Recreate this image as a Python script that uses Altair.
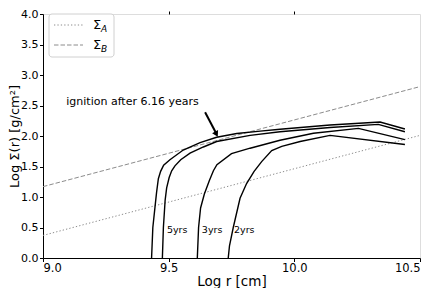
import altair as alt
import pandas as pd

FONT = "DejaVu Sans"

# --- data ---
c1_x = [9.432, 9.437, 9.446, 9.452, 9.459, 9.468, 9.48, 9.505, 9.558, 9.625, 9.691, 9.771, 9.864, 9.943, 10.142, 10.341, 10.44]
c1_y = [0.0, 0.5, 0.85, 1.08, 1.30, 1.42, 1.52, 1.61, 1.77, 1.89, 1.98, 2.04, 2.08, 2.11, 2.18, 2.23, 2.115]

c2_x = [9.475, 9.479, 9.486, 9.492, 9.502, 9.512, 9.525, 9.548, 9.585, 9.638, 9.691, 9.824, 9.943, 10.142, 10.334, 10.44]
c2_y = [0.0, 0.5, 0.95, 1.15, 1.32, 1.43, 1.51, 1.61, 1.72, 1.82, 1.91, 2.01, 2.07, 2.14, 2.19, 2.07]

c3_x = [9.614, 9.619, 9.627, 9.642, 9.662, 9.678, 9.692, 9.75, 9.824, 9.943, 10.076, 10.255, 10.44]
c3_y = [0.0, 0.5, 0.82, 1.05, 1.27, 1.43, 1.53, 1.71, 1.80, 1.93, 2.045, 2.125, 1.94]

c4_x = [9.737, 9.742, 9.757, 9.784, 9.81, 9.84, 9.87, 9.91, 9.95, 10.023, 10.142, 10.44]
c4_y = [0.0, 0.2, 0.5, 0.98, 1.22, 1.42, 1.58, 1.76, 1.83, 1.91, 2.01, 1.86]

sigA_x = [9.0, 10.5]
sigA_y = [0.37, 2.01]
sigB_x = [9.0, 10.5]
sigB_y = [1.17, 2.81]

lab_text = ["5yrs", "3yrs", "2yrs"]
lab_x = [9.493, 9.632, 9.76]
lab_y = [0.46, 0.46, 0.46]

ann_text = ["ignition after 6.16 years"]
ann_x = [9.356]
ann_y = [2.55]

arrow_x = [9.645, 9.689]
arrow_y = [2.39, 2.045]
head_x = [9.690]
head_y = [2.03]

x_ticks = [9.0, 9.5, 10.0, 10.5]
y_ticks = [0.0, 0.5, 1.0, 1.5, 2.0, 2.5, 3.0, 3.5, 4.0]

# --- tables ---
rows = []
for name, xs, ys in [("c1", c1_x, c1_y), ("c2", c2_x, c2_y), ("c3", c3_x, c3_y), ("c4", c4_x, c4_y)]:
    for i, (a, b) in enumerate(zip(xs, ys)):
        rows.append({"curve": name, "x": a, "y": b, "o": i})
curves_df = pd.DataFrame(rows)
sigA_df = pd.DataFrame({"x": sigA_x, "y": sigA_y})
sigB_df = pd.DataFrame({"x": sigB_x, "y": sigB_y})
lab_df = pd.DataFrame({"t": lab_text, "x": lab_x, "y": lab_y})
ann_df = pd.DataFrame({"t": ann_text, "x": ann_x, "y": ann_y})
arrow_df = pd.DataFrame({"x": arrow_x, "y": arrow_y})
head_df = pd.DataFrame({"x": head_x, "y": head_y})
one = pd.DataFrame({"a": [0]})

xscale = alt.Scale(domain=[9.0, 10.5], nice=False, zero=False)
yscale = alt.Scale(domain=[0, 4], nice=False, zero=False)

bottom_axis = alt.Axis(values=x_ticks, format=".1f", title="Log r [cm]", grid=False,
                       tickSize=3.5, tickColor="black", domainColor="black",
                       labelFontSize=11.5, titleFontSize=13.5, labelColor="black",
                       titleColor="black", titleFontWeight="normal", labelFont=FONT,
                       titleFont=FONT, labelPadding=1, titlePadding=0)
top_axis = alt.Axis(orient="top", values=[9.5, 10.0], labels=False, title=None, grid=False,
                    tickSize=3, tickColor="black", domain=False)
left_axis = alt.Axis(values=y_ticks, format=".1f", title="Log Σ(r) [g/cm²]", grid=False,
                     tickSize=3.5, tickColor="black", domainColor="black",
                     labelFontSize=11, titleFontSize=13, labelColor="black",
                     titleColor="black", titleFontWeight="normal", labelFont=FONT,
                     titleFont=FONT, labelPadding=1.5, titlePadding=-1)


def X(axis=None):
    return alt.X("x:Q", scale=xscale, axis=axis)


def Y():
    return alt.Y("y:Q", scale=yscale, axis=left_axis)


sigA = alt.Chart(sigA_df).mark_line(color="#8c8c8c", strokeWidth=1, strokeDash=[1.3, 2.1], clip=True).encode(
    x=X(top_axis), y=Y())
sigB = alt.Chart(sigB_df).mark_line(color="#8c8c8c", strokeWidth=1, strokeDash=[4.5, 2], clip=True).encode(
    x=X(), y=Y())
curves = alt.Chart(curves_df).mark_line(color="black", strokeWidth=1.4, clip=True).encode(
    x=X(bottom_axis), y=Y(), detail="curve:N", order="o:Q")
labels = alt.Chart(lab_df).mark_text(align="left", baseline="middle", fontSize=9.5, font=FONT, color="black").encode(
    x=X(), y=Y(), text="t:N")
ann = alt.Chart(ann_df).mark_text(align="center", baseline="middle", fontSize=11, font=FONT, color="black").encode(
    x=X(), y=Y(), text="t:N")
shaft = alt.Chart(arrow_df).mark_line(color="black", strokeWidth=2).encode(x=X(), y=Y())
head = alt.Chart(head_df).mark_point(shape="triangle-up", filled=True, color="black", size=45, angle=152.5,
                                     opacity=1).encode(x=X(), y=Y())

# legend (drawn by hand to allow subscripts)
leg_box = alt.Chart(one).mark_rect(fill="white", stroke="#d0d0d0", strokeWidth=1, cornerRadius=3).encode(
    x=alt.value(6), x2=alt.value(71), y=alt.value(0), y2=alt.value(43))
leg_a = alt.Chart(one).mark_rule(color="#8c8c8c", strokeWidth=1, strokeDash=[1.3, 2.1]).encode(
    x=alt.value(11), x2=alt.value(40), y=alt.value(11))
leg_b = alt.Chart(one).mark_rule(color="#8c8c8c", strokeWidth=1, strokeDash=[4.5, 2]).encode(
    x=alt.value(11), x2=alt.value(40), y=alt.value(31))
leg_sig_a = alt.Chart(one).mark_text(text="Σ", align="left", baseline="middle", fontSize=13, font=FONT,
                                     color="black").encode(x=alt.value(50), y=alt.value(11))
leg_sig_b = alt.Chart(one).mark_text(text="Σ", align="left", baseline="middle", fontSize=13, font=FONT,
                                     color="black").encode(x=alt.value(50), y=alt.value(31))
leg_sub_a = alt.Chart(one).mark_text(text="A", align="left", baseline="middle", fontSize=9, font=FONT,
                                     fontStyle="italic", color="black").encode(x=alt.value(58), y=alt.value(15))
leg_sub_b = alt.Chart(one).mark_text(text="B", align="left", baseline="middle", fontSize=9, font=FONT,
                                     fontStyle="italic", color="black").encode(x=alt.value(58), y=alt.value(35))

chart = alt.layer(
    sigA, sigB, curves, labels, ann, shaft, head,
    leg_box, leg_a, leg_b, leg_sig_a, leg_sig_b, leg_sub_a, leg_sub_b
).resolve_axis(x="independent").properties(
    width=377, height=244,
    autosize=alt.AutoSizeParams(type="none"),
    padding={"left": 35, "top": 6, "right": 8, "bottom": 30},
).configure_view(stroke="#555555", strokeWidth=1).configure(background="white")

chart.save("out.html", embed_options={"renderer": "svg", "actions": False})
